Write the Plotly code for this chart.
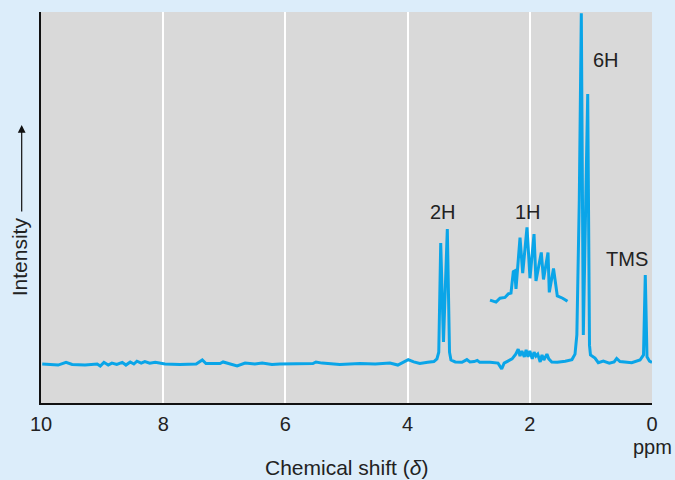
import plotly.graph_objects as go

# Main 1H NMR trace: chemical shift (ppm) and relative intensity
ppm_main = [9.98, 9.85, 9.72, 9.59, 9.49, 9.28, 9.08, 9.03, 8.97, 8.90, 8.84, 8.76,
            8.67, 8.61, 8.54, 8.48, 8.43, 8.36, 8.30, 8.22, 8.13, 7.97, 7.73, 7.46,
            7.36, 7.30, 7.07, 7.02, 6.91, 6.79, 6.66, 6.50, 6.38, 6.22, 6.09, 5.92,
            5.68, 5.55, 5.50, 5.40, 5.11, 4.78, 4.53, 4.29, 4.16, 4.06, 3.99, 3.90,
            3.80, 3.67, 3.57, 3.52, 3.49, 3.458, 3.413, 3.350, 3.314, 3.29, 3.22,
            3.11, 3.03, 2.98, 2.91, 2.86, 2.82, 2.65, 2.52, 2.46, 2.42, 2.29, 2.23,
            2.19, 2.16, 2.13, 2.09, 2.06, 2.03, 2.00, 1.96, 1.93, 1.90, 1.87, 1.83,
            1.80, 1.77, 1.72, 1.69, 1.64, 1.55, 1.42, 1.31, 1.26, 1.23, 1.19, 1.157,
            1.124, 1.052, 1.023, 1.007, 0.933, 0.879, 0.797, 0.699, 0.62, 0.578,
            0.524, 0.332, 0.196, 0.139, 0.110, 0.082, 0.041, 0.0]
intensity_main = [9.97, 9.85, 9.7, 10.4, 9.85, 9.7, 9.97, 9.46, 10.4, 9.7, 10.2, 9.85,
                  10.4, 9.7, 10.5, 9.97, 10.7, 10.2, 10.6, 10.2, 10.4, 9.97, 9.85, 9.97,
                  11.0, 10.1, 10.1, 10.5, 9.97, 9.46, 10.2, 9.97, 10.2, 9.85, 9.97, 9.97,
                  10.1, 10.1, 10.5, 10.2, 9.85, 10.1, 9.97, 10.2, 9.7, 10.6, 11.1, 10.5,
                  10.1, 10.4, 10.6, 11.3, 13.0, 40.9, 15.6, 44.5, 13.0, 11.0, 10.5,
                  10.4, 11.1, 10.5, 10.6, 10.9, 10.4, 10.4, 10.2, 8.7, 10.2, 11.3, 12.5,
                  13.8, 12.0, 13.3, 11.8, 13.6, 11.8, 13.3, 11.3, 13.0, 12.0, 12.5, 10.5,
                  12.3, 11.0, 12.5, 11.3, 10.5, 10.4, 10.7, 11.1, 12.5, 17.4, 51.9, 99.7,
                  17.4, 79.0, 14.8, 12.3, 11.5, 10.3, 10.7, 10.2, 10.5, 11.4,
                  10.6, 10.3, 11.0, 12.3, 32.7, 11.8, 10.7, 10.4]

# Expanded (offset) view of the 1H multiplet
ppm_1h = [2.651, 2.597, 2.553, 2.488, 2.406, 2.352, 2.308, 2.270, 2.247, 2.226, 2.160,
          2.116, 2.046, 1.997, 1.931, 1.899, 1.812, 1.776, 1.702, 1.681, 1.612, 1.550,
          1.462, 1.383]
intensity_1h = [26.3, 26.1, 25.8, 26.8, 27.0, 27.9, 28.1, 33.6, 33.8, 29.2, 42.3,
                33.2, 44.9, 31.9, 43.2, 31.2, 38.5, 31.6, 38.5, 28.3, 34.4, 27.4,
                26.8, 26.0]

tick_values = [10, 8, 6, 4, 2, 0]
tick_labels = ["10", "8", "6", "4", "2", "0"]

peak_labels = ["2H", "1H", "6H", "TMS"]

LINE = "#0aa5e8"
TEXT = "#222222"
FONT = "Liberation Sans, Arial, sans-serif"

fig = go.Figure()
fig.add_trace(go.Scatter(x=ppm_main, y=intensity_main, mode="lines",
                         line=dict(color=LINE, width=3), hoverinfo="skip"))
fig.add_trace(go.Scatter(x=ppm_1h, y=intensity_1h, mode="lines",
                         line=dict(color=LINE, width=3), hoverinfo="skip"))

# Multiplicity labels above the peaks
label_pos = [(3.42, 48.8), (2.03, 48.8), (0.75, 87.7), (0.41, 36.8)]
for text, (px, py) in zip(peak_labels, label_pos):
    fig.add_annotation(x=px, y=py, text=text, showarrow=False,
                       font=dict(family=FONT, size=20, color=TEXT),
                       xanchor="center", yanchor="middle")

# Unit under the zero tick
fig.add_annotation(x=0, xref="x", y=-0.112, yref="paper", text="ppm",
                   showarrow=False, font=dict(family=FONT, size=20, color=TEXT),
                   xanchor="center", yanchor="middle")

# Axis title
fig.add_annotation(x=0.5, xref="paper", y=-0.166, yref="paper",
                   text="Chemical shift (<i>δ</i>)", showarrow=False,
                   font=dict(family=FONT, size=21, color=TEXT),
                   xanchor="center", yanchor="middle")

# Vertical "Intensity" label with upward arrow
fig.add_annotation(x=-0.0352, xref="paper", y=0.374, yref="paper", text="Intensity",
                   textangle=-90, showarrow=False,
                   font=dict(family=FONT, size=21, color=TEXT),
                   xanchor="center", yanchor="middle")
fig.add_annotation(x=-0.0316, xref="paper", y=0.711, yref="paper", text="",
                   showarrow=True, ax=0, ay=88, axref="pixel", ayref="pixel",
                   arrowhead=2, arrowsize=1.3, arrowwidth=1.2, arrowcolor="#111111")

fig.update_layout(
    width=675, height=480,
    margin=dict(l=41, r=23, t=12, b=77),
    paper_bgcolor="#dcedfa",
    plot_bgcolor="#d9d9d9",
    showlegend=False,
    font=dict(family=FONT, color=TEXT),
)
fig.update_xaxes(range=[10, 0], tickvals=tick_values, ticktext=tick_labels,
                 showgrid=True, gridcolor="#ffffff", gridwidth=1.5,
                 showline=True, linecolor="#111111", linewidth=2,
                 ticks="", zeroline=False, ticklabelstandoff=2,
                 tickfont=dict(family=FONT, size=20, color=TEXT))
fig.update_yaxes(range=[0, 100], showgrid=False, showticklabels=False,
                 showline=True, linecolor="#111111", linewidth=2,
                 ticks="", zeroline=False)

fig.write_html("out.html")
